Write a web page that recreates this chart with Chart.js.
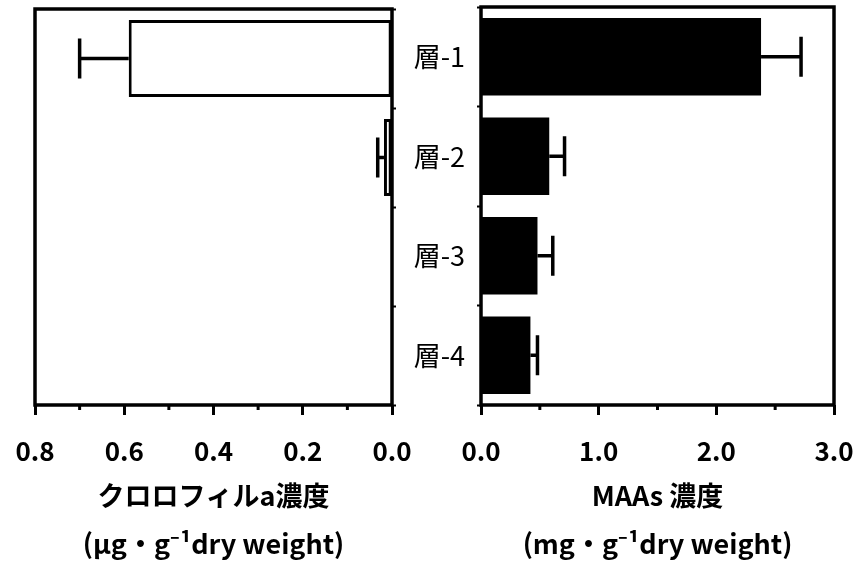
<!DOCTYPE html>
<html>
<head>
<meta charset="utf-8">
<script src="https://cdn.jsdelivr.net/npm/chart.js@4.4.1/dist/chart.umd.min.js"></script>
<style>
  body { margin: 0; background: #fff; }
  #wrap { position: relative; width: 862px; height: 569px; }
  canvas { position: absolute; top: 0; }
</style>
</head>
<body>
<div id="wrap">
  <canvas id="chlChart" width="430" height="569" style="left:0"></canvas>
  <canvas id="maaChart" width="462" height="569" style="left:400px"></canvas>
</div>
<script>
const categories = ['層-1', '層-2', '層-3', '層-4'];
const chlValues = [0.59, 0.018, 0, 0];
const chlErrors = [0.11, 0.014, 0, 0];
const maaValues = [2.38, 0.58, 0.48, 0.42];
const maaErrors = [0.34, 0.13, 0.13, 0.06];
const chlMinorTicks = [0.1, 0.3, 0.5, 0.7];
const maaMinorTicks = [0.5, 1.5, 2.5];

const jpFont = "'Noto Sans CJK JP', 'Noto Sans', sans-serif";

// Fehlerbalken, Rahmen und Nebenstriche
const decorPlugin = {
    id: 'decor',
    afterDatasetsDraw(chart, args, opts) {
        const ctx = chart.ctx;
        const xs = chart.scales.x;
        const ys = chart.scales.y;
        ctx.save();
        ctx.strokeStyle = '#000';
        ctx.lineWidth = 3.5;
        for (let i = 0; i < opts.values.length; i++) {
            if (opts.errors[i] <= 0) continue;
            const x0 = xs.getPixelForValue(opts.values[i]);
            const x1 = xs.getPixelForValue(opts.values[i] + opts.errors[i]);
            const y = ys.getPixelForValue(i);
            ctx.beginPath();
            ctx.moveTo(x0, y);
            ctx.lineTo(x1, y);
            ctx.moveTo(x1, y - 20);
            ctx.lineTo(x1, y + 20);
            ctx.stroke();
        }
        const a = chart.chartArea;
        ctx.strokeRect(a.left, a.top, a.right - a.left, a.bottom - a.top);
        ctx.lineWidth = 3;
        for (let v of opts.minor) {
            const x = xs.getPixelForValue(v);
            ctx.beginPath();
            ctx.moveTo(x, a.bottom);
            ctx.lineTo(x, a.bottom + 5);
            ctx.stroke();
        }
        ctx.restore();
    }
};

function xAxis(min, max, step, reverse, title) {
    return {
        type: 'linear',
        min: min,
        max: max,
        reverse: reverse,
        border: { display: false },
        grid: { drawOnChartArea: false, tickLength: 10, tickWidth: 3, tickColor: '#000' },
        ticks: {
            stepSize: step,
            color: '#000',
            padding: 21,
            font: { family: jpFont, size: 26, weight: 'bold' },
            callback: function(v) { return Number(v).toFixed(1); }
        },
        title: {
            display: true,
            text: title,
            color: '#000',
            padding: { top: 0, bottom: 2 },
            font: { family: jpFont, size: 27, weight: 'bold', lineHeight: 1.75 }
        },
        afterFit: function(scale) {
            scale.height = 164;
            scale.paddingLeft = 0;
            scale.paddingRight = 0;
        }
    };
}

new Chart(document.getElementById('chlChart'), {
    type: 'bar',
    data: {
        labels: categories,
        datasets: [{
            data: chlValues,
            backgroundColor: '#fff',
            borderColor: '#000',
            borderWidth: 3,
            borderSkipped: false,
            barPercentage: 0.78,
            categoryPercentage: 1
        }]
    },
    options: {
        indexAxis: 'y',
        responsive: false,
        animation: false,
        layout: { padding: { left: 35, top: 9, right: 30, bottom: 0 } },
        plugins: {
            legend: { display: false },
            tooltip: { enabled: false },
            decor: { values: chlValues, errors: chlErrors, minor: chlMinorTicks }
        },
        scales: {
            x: xAxis(0, 0.8, 0.2, true, ['クロロフィルa濃度', '(μg・g⁻¹dry weight)']),
            y: {
                position: 'right',
                border: { display: false },
                grid: { offset: true, drawOnChartArea: false, tickLength: 4, tickWidth: 2, tickColor: '#000' },
                ticks: { display: false },
                afterFit: function(scale) {
                    scale.width = 8;
                    scale.paddingTop = 0;
                    scale.paddingBottom = 0;
                }
            }
        }
    },
    plugins: [decorPlugin]
});

new Chart(document.getElementById('maaChart'), {
    type: 'bar',
    data: {
        labels: categories,
        datasets: [{
            data: maaValues,
            backgroundColor: '#000',
            borderWidth: 0,
            barPercentage: 0.78,
            categoryPercentage: 1
        }]
    },
    options: {
        indexAxis: 'y',
        responsive: false,
        animation: false,
        layout: { padding: { left: 0, top: 7, right: 28, bottom: 0 } },
        plugins: {
            legend: { display: false },
            tooltip: { enabled: false },
            decor: { values: maaValues, errors: maaErrors, minor: maaMinorTicks }
        },
        scales: {
            x: xAxis(0, 3, 1, false, ['MAAs 濃度', '(mg・g⁻¹dry weight)']),
            y: {
                position: 'left',
                border: { display: false },
                grid: { offset: true, drawOnChartArea: false, tickLength: 4, tickWidth: 2, tickColor: '#000' },
                ticks: {
                    color: '#000',
                    padding: 12,
                    font: { family: jpFont, size: 27 }
                },
                afterFit: function(scale) {
                    scale.width = 81;
                    scale.paddingTop = 0;
                    scale.paddingBottom = 0;
                }
            }
        }
    },
    plugins: [decorPlugin]
});
</script>
</body>
</html>
